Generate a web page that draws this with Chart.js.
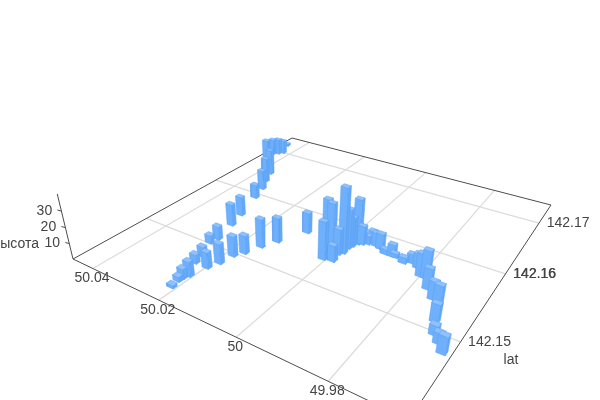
<!DOCTYPE html>
<html>
<head>
<meta charset="utf-8">
<script src="https://cdn.jsdelivr.net/npm/chart.js@4"></script>
<style>
  html, body { margin: 0; background: #fff; }
  canvas { display: block; }
</style>
</head>
<body>
<canvas id="chart" width="600" height="400"></canvas>
<script>
// values
const lons = [50.0212, 50.0217, 50.0216, 50.0210, 50.0234, 50.0199, 50.0238, 50.0262, 50.0258, 50.0188, 50.0182, 50.0168, 50.0153, 50.0135, 50.0273, 50.0286, 50.0314, 50.0330, 50.0351, 50.0369, 50.0430, 50.0446, 50.0434, 50.0425, 50.0447, 50.0100, 50.0008, 50.0036, 50.0017, 49.9987, 49.9991, 49.9984, 49.9985, 49.9982, 49.9976, 49.9967, 49.9957, 49.9949, 49.9936, 49.9922, 49.9903, 49.9886, 49.9879, 49.9853, 49.9838, 49.9819, 49.9801, 49.9789, 49.9770, 49.9747, 49.9728, 49.9715, 49.9701, 49.9685, 49.9669];
const lats = [142.1435, 142.1444, 142.1449, 142.1454, 142.1471, 142.1471, 142.1482, 142.1502, 142.1511, 142.1482, 142.1497, 142.1506, 142.1522, 142.1537, 142.1537, 142.1557, 142.1593, 142.1613, 142.1630, 142.1647, 142.1672, 142.1692, 142.1696, 142.1701, 142.1721, 142.1565, 142.1536, 142.1560, 142.1555, 142.1538, 142.1550, 142.1554, 142.1563, 142.1568, 142.1574, 142.1576, 142.1579, 142.1583, 142.1580, 142.1578, 142.1573, 142.1573, 142.1573, 142.1569, 142.1573, 142.1569, 142.1559, 142.1559, 142.1546, 142.1536, 142.1528, 142.1512, 142.1498, 142.1491, 142.1483];
const heights = [1.9, 3.2, 6.3, 9.5, 5.8, 10.2, 6.6, 5.4, 8.7, 12.8, 13.0, 11.7, 18.3, 15.9, 14.3, 12.6, 9.4, 13.2, 16.4, 17.4, 15.7, 11.2, 11.2, 9.7, 1.7, 13.5, 24.1, 28.4, 28.8, 10.3, 16.2, 41.0, 25.1, 18.9, 28.8, 11.9, 5.4, 8.0, 8.6, 9.9, 3.3, 7.8, 2.6, 3.9, 5.8, 9.0, 14.4, 17.4, 13.0, 11.0, 13.8, 10.7, 5.9, 6.5, 10.4];

const lonTicks = [50.04, 50.02, 50, 49.98];
const latTicks = [142.15, 142.16, 142.17];
const zTicks = [10, 20, 30];
const zTop = 40;
const lonRange = [50.0467, 49.9651];
const latRange = [142.1416, 142.1743];
const barLon = 0.0018, barLat = 0.0005;

// camera: floor homography plus a vertical vanishing point
const cam = { a: 215.6, b: 352.9, c: 73, d: 37.4, e: -57.7, f: 259, g: -0.2943, h: 0.4586, q: -0.00165, vx: 296, vy: 1180 };

function project(lon, lat, z) {
    const s = (lonRange[0] - lon) / (lonRange[0] - lonRange[1]);
    const t = (lat - latRange[0]) / (latRange[1] - latRange[0]);
    const w = cam.g * s + cam.h * t + 1 + z * cam.q;
    return {
        x: (cam.a * s + cam.b * t + cam.c + z * cam.q * cam.vx) / w,
        y: (cam.d * s + cam.e * t + cam.f + z * cam.q * cam.vy) / w
    };
}

function lineSet(points, color, width) {
    return { data: points, showLine: true, fill: false, borderColor: color, borderWidth: width, pointRadius: 0, tension: 0 };
}

function faceSet(points, fillColor) {
    return {
        data: points.concat([points[0]]), showLine: true, fill: 'shape', backgroundColor: fillColor,
        borderColor: '#5a9ff2', borderWidth: 0.5, pointRadius: 0, tension: 0
    };
}

const datasets = [];

// nearest bars first, dataset 0 is painted last
const depth = i => cam.g * (lonRange[0] - lons[i]) / (lonRange[0] - lonRange[1]) + cam.h * (lats[i] - latRange[0]) / (latRange[1] - latRange[0]);
lons.map((_, i) => i).sort((p, q) => depth(p) - depth(q)).forEach(i => {
    const lo0 = lons[i] + barLon / 2, lo1 = lons[i] - barLon / 2;
    const la0 = lats[i] - barLat / 2, la1 = lats[i] + barLat / 2;
    const h = heights[i];
    datasets.push(faceSet([project(lo0, la0, h), project(lo1, la0, h), project(lo1, la1, h), project(lo0, la1, h)], '#8fc2fd'));
    datasets.push(faceSet([project(lo0, la0, 0), project(lo1, la0, 0), project(lo1, la0, h), project(lo0, la0, h)], '#6eb0fb'));
    datasets.push(faceSet([project(lo1, la0, 0), project(lo1, la1, 0), project(lo1, la1, h), project(lo1, la0, h)], '#64a8f8'));
});

// frame and z axis
const frame = '#4d4d4d';
datasets.push(lineSet([project(lonRange[0], latRange[0], 0), project(lonRange[0], latRange[0], zTop)], frame, 1));
zTicks.forEach(z => {
    const p = project(lonRange[0], latRange[0], z);
    datasets.push(lineSet([p, { x: p.x - 4, y: p.y - 1 }], frame, 1));
});
datasets.push(lineSet([
    project(lonRange[0], latRange[0], 0), project(lonRange[1], latRange[0], 0),
    project(lonRange[1], latRange[1], 0), project(lonRange[0], latRange[1], 0),
    project(lonRange[0], latRange[0], 0)
], frame, 1));

// floor grid
lonTicks.forEach(v => datasets.push(lineSet([project(v, latRange[0], 0), project(v, latRange[1], 0)], '#dcdcdc', 1.3)));
latTicks.forEach(v => datasets.push(lineSet([project(lonRange[0], v, 0), project(lonRange[1], v, 0)], '#dcdcdc', 1.3)));

const axisText = {
    id: 'axisText',
    afterDraw(chart) {
        const { ctx, scales } = chart;
        const put = (txt, x, y, align) => {
            ctx.textAlign = align || 'center';
            ctx.fillText(txt, scales.x.getPixelForValue(x), scales.y.getPixelForValue(y));
        };
        ctx.save();
        ctx.font = '14px "Liberation Sans"';
        ctx.fillStyle = '#444444';
        ctx.textBaseline = 'middle';
        lonTicks.forEach(v => {
            const p = project(v, latRange[0], 0);
            put(String(v), p.x - 1, p.y + 10);
        });
        latTicks.forEach(v => {
            const p = project(lonRange[1], v, 0);
            put(String(v), p.x + 29, p.y);
            if (v === 142.16) put(String(v), p.x + 29.3, p.y);
        });
        zTicks.forEach(v => {
            const p = project(lonRange[0], latRange[0], v);
            put(String(v), p.x - 17, p.y);
        });
        put('lat', 511, 360);
        put('высота', 39, 244, 'right');
        ctx.restore();
    }
};

new Chart(document.getElementById('chart'), {
    type: 'scatter',
    data: { datasets },
    plugins: [axisText],
    options: {
        responsive: false,
        animation: false,
        clip: false,
        layout: { padding: 0 },
        plugins: { legend: { display: false }, tooltip: { enabled: false } },
        scales: {
            x: { type: 'linear', min: 0, max: 600, display: false },
            y: { type: 'linear', min: 0, max: 400, reverse: true, display: false }
        }
    }
});
</script>
</body>
</html>
